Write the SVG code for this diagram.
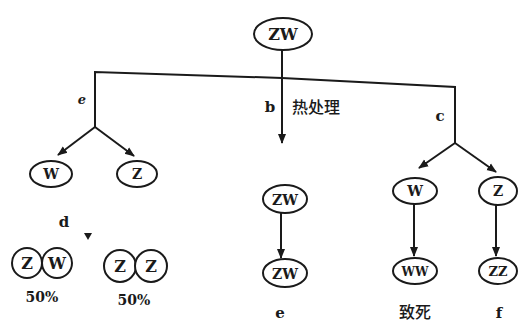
<svg xmlns="http://www.w3.org/2000/svg" width="519" height="326" viewBox="0 0 519 326">
<defs>
<marker id="ah" viewBox="0 0 10 10" refX="9" refY="5" markerWidth="5" markerHeight="5" orient="auto" markerUnits="strokeWidth">
<path d="M0,1 L10,5 L0,9 z" fill="#1a1a1a"/>
</marker>
<style>
.n{fill:#fff;stroke:#1a1a1a;stroke-width:2}
.t{font-family:'DejaVu Serif',serif;font-weight:bold;fill:#1a1a1a;text-anchor:middle}
.c{font-family:'Noto Sans CJK SC',sans-serif;font-weight:500;fill:#1a1a1a}
.l{stroke:#1a1a1a;stroke-width:2;fill:none}
.a{stroke:#1a1a1a;stroke-width:2;fill:none;marker-end:url(#ah)}
</style>
</defs>
<rect width="519" height="326" fill="#fff"/>
<g id="connectors">
<path class="l" d="M95,127 L95,72 L282,78 L455,87 L455,143"/>
<path class="a" d="M282,50 L282,143"/>
<path class="a" d="M95,127 L58,155"/>
<path class="a" d="M95,127 L134,156"/>
<path class="a" d="M455,143 L419,168"/>
<path class="a" d="M455,143 L496,172"/>
<path class="a" d="M281,213 L281,258"/>
<path class="a" d="M414,204 L414,256"/>
<path class="a" d="M496,205 L496,256"/>
<path d="M84,233 L92,233 L88,240 z" fill="#1a1a1a"/>
</g>
<g id="labels">
<text class="t" x="82" y="104" font-size="13" font-style="italic">e</text>
<text class="t" x="270" y="112" font-size="15">b</text>
<text class="c" x="292" y="113" font-size="16">热处理</text>
<text class="t" x="440" y="121" font-size="15">c</text>
<text class="t" x="64" y="227" font-size="15">d</text>
<text class="t" x="280" y="318" font-size="15">e</text>
<text class="c" x="415" y="318" font-size="16" text-anchor="middle">致死</text>
<text class="t" x="499" y="318" font-size="15" font-weight="normal">f</text>
</g>
<g id="n-top">
<ellipse class="n" cx="283" cy="34" rx="29" ry="16"/>
<text class="t" x="283" y="40" font-size="16">ZW</text>
</g>
<g id="n-lw">
<ellipse class="n" cx="51" cy="174" rx="21" ry="13"/>
<text class="t" x="51" y="179" font-size="14">W</text>
</g>
<g id="n-lz">
<ellipse class="n" cx="137" cy="174" rx="20" ry="13"/>
<text class="t" x="137" y="179" font-size="14">Z</text>
</g>
<g id="n-zw-pair">
<circle class="n" cx="27" cy="263" r="15"/>
<circle class="n" cx="57" cy="263" r="15"/>
<text class="t" x="27" y="269" font-size="16">Z</text>
<text class="t" x="57" y="269" font-size="16">W</text>
<text class="t" x="42" y="302" font-size="14">50%</text>
</g>
<g id="n-zz-pair">
<circle class="n" cx="120" cy="266" r="16"/>
<circle class="n" cx="151" cy="266" r="16"/>
<text class="t" x="120" y="272" font-size="16">Z</text>
<text class="t" x="151" y="272" font-size="16">Z</text>
<text class="t" x="134" y="305" font-size="14">50%</text>
</g>
<g id="n-mid1">
<ellipse class="n" cx="285" cy="199" rx="22" ry="14"/>
<text class="t" x="285" y="205" font-size="14">ZW</text>
</g>
<g id="n-mid2">
<ellipse class="n" cx="285" cy="273" rx="22" ry="14"/>
<text class="t" x="285" y="279" font-size="14">ZW</text>
</g>
<g id="n-rw">
<ellipse class="n" cx="415" cy="191" rx="22" ry="13"/>
<text class="t" x="415" y="196" font-size="14">W</text>
</g>
<g id="n-rz">
<ellipse class="n" cx="498" cy="191" rx="19" ry="14"/>
<text class="t" x="498" y="196" font-size="14">Z</text>
</g>
<g id="n-ww">
<ellipse class="n" cx="415" cy="271" rx="22" ry="13"/>
<text class="t" x="415" y="276" font-size="12">WW</text>
</g>
<g id="n-zz">
<ellipse class="n" cx="498" cy="271" rx="19" ry="13"/>
<text class="t" x="498" y="276" font-size="13">ZZ</text>
</g>
</svg>
